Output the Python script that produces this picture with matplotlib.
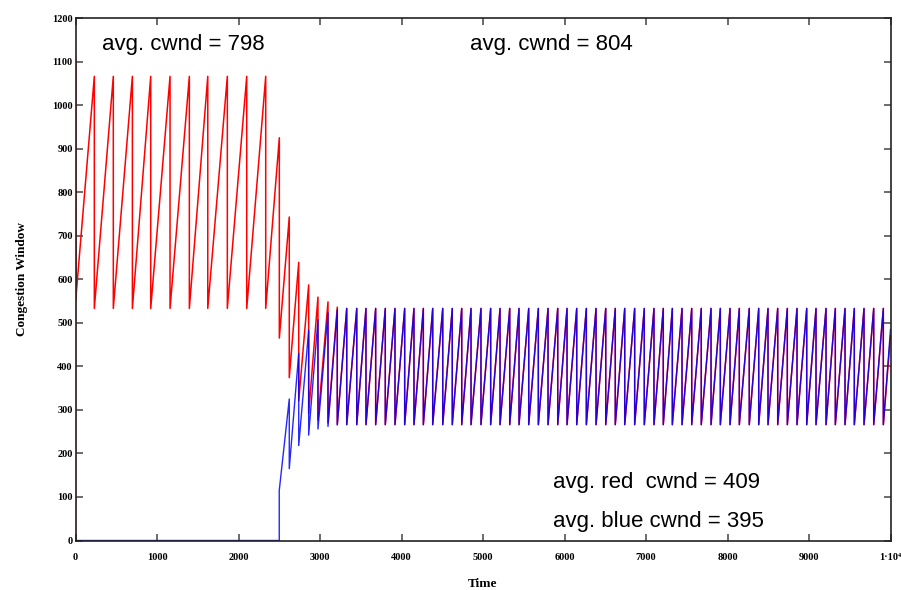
import matplotlib
matplotlib.use("Agg")
import matplotlib.pyplot as plt

# loss instants shared by both flows once they have synchronised (t >= 3098)
sync_drops = [3098, 3212, 3328, 3451, 3564, 3683, 3801, 3920, 4039, 4153,
              4268, 4383, 4506, 4623, 4739, 4853, 4975, 5094, 5209, 5328,
              5442, 5561, 5679, 5798, 5917, 6031, 6150, 6268, 6387, 6506,
              6623, 6739, 6861, 6979, 7098, 7212, 7323, 7442, 7561, 7678,
              7798, 7912, 8031, 8145, 8267, 8383, 8497, 8616, 8734, 8853,
              8972, 9086, 9209, 9323, 9442, 9556, 9675, 9794, 9912]

# red flow (alone until t=2500)
red_start_t = [0, 0, 3]
red_start_v = [0, 1108, 553]
red_drops = [231, 464, 698, 923, 1160, 1397, 1623, 1863, 2101, 2334,
             2501, 2623, 2739, 2861, 2975] + sync_drops
red_peaks = [1066] * 10 + [925, 743, 639, 587, 559, 548, 536] + [533] * 57
red_troughs = [533] * 10 + [465, 374, 321, 292, 276, 270, 267] + [266] * 57
red_end = (10000, 470)

# blue flow (joins at t=2500)
blue_start_t = [0, 2500, 2500]
blue_start_v = [0, 0, 115]
blue_drops = [2623, 2739, 2861, 2975] + sync_drops
blue_peaks = [325, 430, 483, 507, 523, 530] + [533] * 57
blue_troughs = [165, 218, 242, 256, 262, 265] + [266] * 57
blue_end = (10000, 485)

notes = [(321, 1126, "avg. cwnd = 798"),
         (4840, 1126, "avg. cwnd = 804"),
         (5863, 121, "avg. red  cwnd = 409"),
         (5863, 32, "avg. blue cwnd = 395")]


def sawtooth(t0, v0, drops, peaks, troughs, end):
    t, v = list(t0), list(v0)
    for d, p, q in zip(drops, peaks, troughs):
        t += [d, d]
        v += [p, q]
    t.append(end[0]); v.append(end[1])
    return t, v


fig = plt.figure(figsize=(9.01, 5.90), dpi=100)
ax = fig.add_axes([75.5/901, 1-540.5/590, 815/901, 522.5/590])

rt, rv = sawtooth(red_start_t, red_start_v, red_drops, red_peaks, red_troughs, red_end)
bt, bv = sawtooth(blue_start_t, blue_start_v, blue_drops, blue_peaks, blue_troughs, blue_end)
ax.plot(rt, rv, color="#ff0000", lw=1.1)
ax.plot(bt, bv, color="#0000ff", lw=1.0, alpha=0.85)

ax.set_xlim(0, 10000); ax.set_ylim(0, 1200)
ax.set_xticks(range(0, 10001, 1000))
ax.set_xticklabels([str(x) for x in range(0, 10000, 1000)] + ["1\u00b710\u2074"])
ax.set_yticks(range(0, 1201, 100))
serif = dict(family="Liberation Serif", weight="bold")
for lab in ax.get_xticklabels() + ax.get_yticklabels():
    lab.set_fontfamily(["Liberation Serif", "DejaVu Serif"])
    lab.set_fontweight("bold"); lab.set_fontsize(7.5)
ax.tick_params(direction="in", length=5, width=1.1, color="#444444",
               top=True, right=True)
ax.tick_params(axis="x", pad=9)
ax.tick_params(axis="y", pad=2)
for s in ax.spines.values():
    s.set_linewidth(1.2); s.set_color("#222222")
ax.set_xlabel("Time", fontsize=9.5, labelpad=11.5, **serif)
ax.set_ylabel("Congestion Window", fontsize=9.5, labelpad=17, **serif)

for x, y, s in notes:
    ax.text(x, y, s, fontsize=16, family="Liberation Sans", va="baseline", ha="left")

fig.savefig("out.png", dpi=100)
